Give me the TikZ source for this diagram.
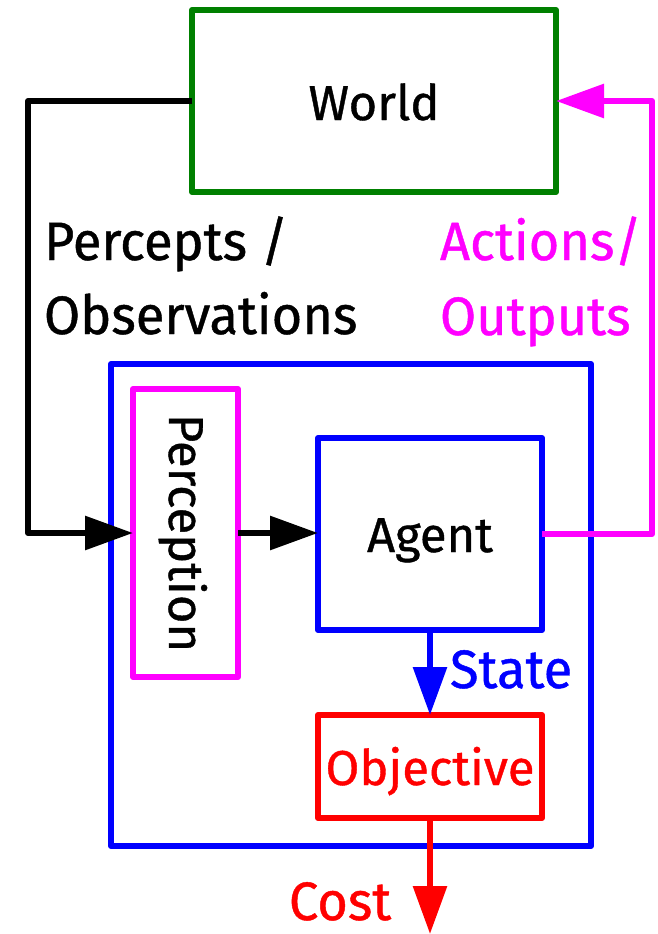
\documentclass[tikz,border=0pt]{standalone}
\usepackage{fontspec}
\setmainfont{Fira Sans}[FakeBold=0.8]
\newfontfamily\bigfont{Fira Sans}[FakeBold=0.8,FakeStretch=0.97]
\usetikzlibrary{arrows.meta}
\definecolor{wgreen}{HTML}{008000}
\definecolor{mag}{HTML}{FF00FF}
\definecolor{pblue}{HTML}{0000FF}
\definecolor{pred}{HTML}{FF0000}
\begin{document}
\begin{tikzpicture}[x=1pt,y=-1pt,line width=6pt,line join=round,
  boxnode/.style={draw,inner sep=0pt,outer sep=0pt},
  bigtext/.style={font=\bigfont\fontsize{54}{60}\selectfont,inner sep=0pt,anchor=base west},
  boxtext/.style={font=\fontsize{49}{55}\selectfont,inner sep=0pt,anchor=base},
  tip/.style={-{Triangle[length=48pt,width=33pt]}}]
\useasboundingbox (0,0) rectangle (657,934);
% boxes
\node[boxnode,wgreen,minimum width=364pt,minimum height=182pt] (world) at (374,101) {};
\node[boxnode,pblue,minimum width=480pt,minimum height=482pt] (sys) at (351,605) {};
\node[boxnode,mag,minimum width=105pt,minimum height=288pt] (perc) at (185.5,533) {};
\node[boxnode,pblue,minimum width=224pt,minimum height=192pt] (agent) at (430,534) {};
\node[boxnode,pred,minimum width=224pt,minimum height=103pt] (obj) at (430,766.5) {};
% box texts
\node[boxtext] (worldt) at (374,120) {World};
\node[boxtext] (agentt) at (430,552) {Agent};
\node[boxtext,pred] (objt) at (430,785) {Objective};
\node[font=\fontsize{49}{55}\selectfont,inner sep=0pt,rotate=-90,anchor=base] (perct) at (169,533) {Perception};
% connectors
\coordinate (bl) at (28,101);
\coordinate (pr) at (652,101);
\coordinate (costend) at (430,934);
\draw[tip,black] (world.west) -- (bl) |- (perc.west);
\draw[tip,black] (perc.east) -- (perc.east -| agent.west);
\draw[tip,mag] (agent.east) -| (pr) -- (world.east);
\draw[tip,pblue] (agent.south) -- (obj.north);
\draw[tip,pred] (obj.south) -- (costend);
% labels
\node[bigtext] (l1) at (41,260) {Percepts /};
\node[bigtext] (l2) at (41,334) {Observations};
\node[bigtext,mag] (l3) at (437,260) {Actions/};
\node[bigtext,mag] (l4) at (437,335) {Outputs};
\node[bigtext,pblue] (l5) at (447,688) {State};
\node[bigtext,pred] (l6) at (286,920) {Cost};
\end{tikzpicture}
\end{document}
